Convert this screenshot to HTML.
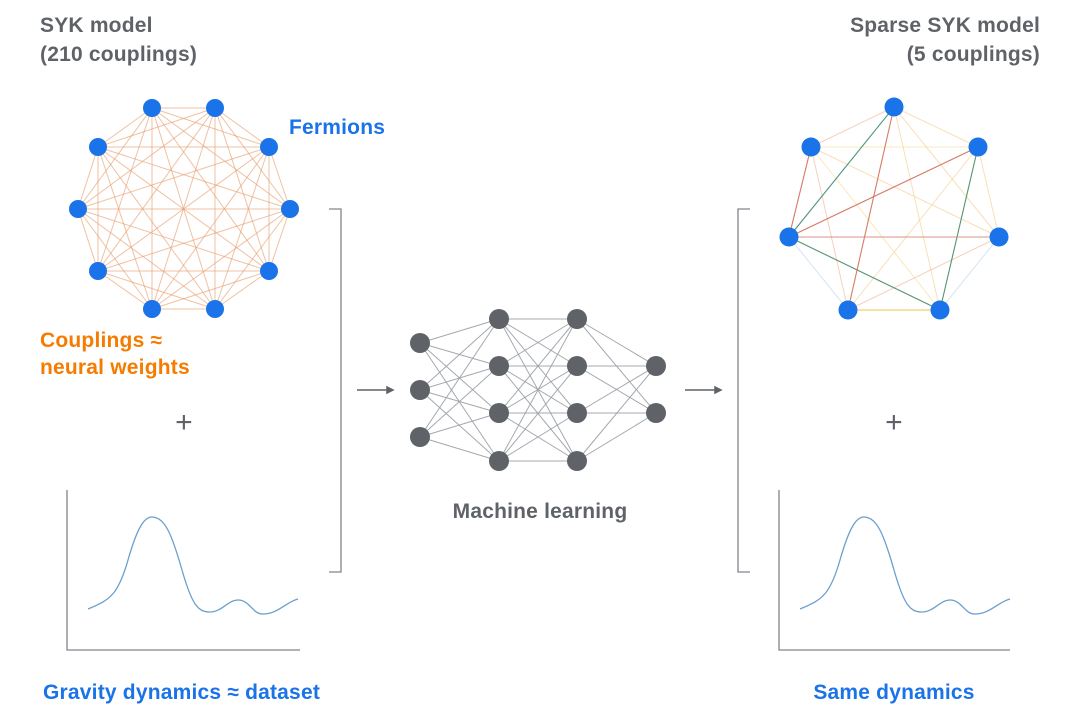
<!DOCTYPE html>
<html><head><meta charset="utf-8"><style>
html,body{margin:0;padding:0;background:#fff;}
svg{display:block}
text{font-family:"Liberation Sans",Arial,sans-serif;font-weight:bold;font-size:21px;letter-spacing:0.2px}
</style></head><body>
<svg id="s" width="1080" height="721" viewBox="0 0 1080 721" xmlns="http://www.w3.org/2000/svg">
<g id="lines"></g>
<g id="nodes"></g>
<text x="40" y="32" fill="#5f6368">SYK model</text>
<text x="40" y="61" fill="#5f6368">(210 couplings)</text>
<text x="1040" y="32" fill="#5f6368" text-anchor="end">Sparse SYK model</text>
<text x="1040" y="61" fill="#5f6368" text-anchor="end">(5 couplings)</text>
<text x="289" y="134" fill="#1a73e8">Fermions</text>
<text x="40" y="347" fill="#f57c00">Couplings ≈</text>
<text x="40" y="374" fill="#f57c00">neural weights</text>
<text x="184" y="432" fill="#5f6368" text-anchor="middle" style="font-size:30px;font-weight:normal">+</text>
<text x="894" y="432" fill="#5f6368" text-anchor="middle" style="font-size:30px;font-weight:normal">+</text>
<text x="540" y="518" fill="#5f6368" text-anchor="middle">Machine learning</text>
<text x="43" y="699" fill="#1a73e8">Gravity dynamics ≈ dataset</text>
<text x="894" y="699" fill="#1a73e8" text-anchor="middle">Same dynamics</text>
<g fill="none" stroke="#80868b" stroke-width="1.3">
<path d="M329 209H341V572H329"/>
<path d="M750 209H738V572H750"/>
<path d="M67 490V650H300"/>
<path d="M779 490V650H1010"/>
</g>
<g stroke="#5f6368" stroke-width="1.5" fill="#5f6368">
<line x1="357" y1="390" x2="388" y2="390"/><path d="M393 390l-6-3v6z"/>
<line x1="685" y1="390" x2="716" y2="390"/><path d="M721 390l-6-3v6z"/>
</g>
<g fill="none" stroke="#6a9fcf" stroke-width="1.3">
<path d="M88 609C110 600 118 595 128 560C138 525 145 517 152 517C165 517 172 535 182 570C192 605 198 612 210 612C222 612 228 600 238 600C250 600 252 614 263 614C278 614 286 602 298 599"/>
<path d="M800 609C822 600 830 595 840 560C850 525 857 517 864 517C877 517 884 535 894 570C904 605 910 612 922 612C934 612 940 600 950 600C962 600 964 614 975 614C990 614 998 602 1010 599"/>
</g>
</svg>
<script>
var NS="http://www.w3.org/2000/svg",L=document.getElementById('lines'),N=document.getElementById('nodes');
function ln(a,b,c,w,o){var e=document.createElementNS(NS,'line');e.setAttribute('x1',a[0]);e.setAttribute('y1',a[1]);e.setAttribute('x2',b[0]);e.setAttribute('y2',b[1]);e.setAttribute('stroke',c);e.setAttribute('stroke-width',w);e.setAttribute('stroke-opacity',o);L.appendChild(e);}
function nd(p,r,c){var e=document.createElementNS(NS,'circle');e.setAttribute('cx',p[0]);e.setAttribute('cy',p[1]);e.setAttribute('r',r);e.setAttribute('fill',c);N.appendChild(e);}
var A=[[152,108],[215,108],[269,147],[290,209],[269,271],[215,309],[152,309],[98,271],[78,209],[98,147]];
for(var i=0;i<A.length;i++)for(var j=i+1;j<A.length;j++)ln(A[i],A[j],'#e8a070',1,0.65);
A.forEach(function(p){nd(p,9,'#1a73e8')});
var B=[[894,107],[978,147],[999,237],[940,310],[848,310],[789,237],[811,147]];
var cols=['#f5c98a','#f5c98a','#f5c98a','#f5d98a','#b8d4ec','#f0b090','#f5c98a'];
var k=0;
for(var i=0;i<B.length;i++)for(var j=i+1;j<B.length;j++){ln(B[i],B[j],cols[k%cols.length],1,0.6);k++;}
var S=[[[894,107],[789,237],'#3a8a6a'],[[978,147],[789,237],'#d06a5a'],[[789,237],[940,310],'#3a8a6a'],[[978,147],[940,310],'#3a8a6a'],[[894,107],[848,310],'#d06a5a'],[[789,237],[999,237],'#d08a7a'],[[848,310],[940,310],'#e8c040'],[[811,147],[789,237],'#d06a5a']];
S.forEach(function(s){ln(s[0],s[1],s[2],1.1,0.85)});
B.forEach(function(p){nd(p,9.5,'#1a73e8')});
var Ls=[[[420,343],[420,390],[420,437]],[[499,319],[499,366],[499,413],[499,461]],[[577,319],[577,366],[577,413],[577,461]],[[656,366],[656,413]]];
for(var l=0;l<3;l++)Ls[l].forEach(function(a){Ls[l+1].forEach(function(b){ln(a,b,'#9aa0a6',1,0.9)})});
Ls.forEach(function(ly){ly.forEach(function(p){nd(p,10,'#5f6368')})});
</script>
</body></html>
